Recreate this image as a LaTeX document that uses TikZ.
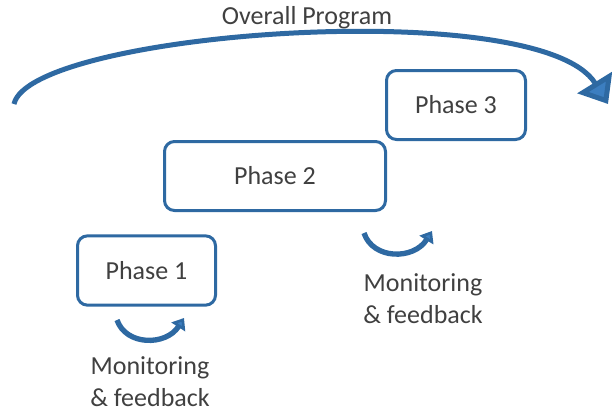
\documentclass[tikz,border=0pt]{standalone}
\usepackage{fontspec}
\setmainfont{Carlito}
\usetikzlibrary{arrows.meta}

\definecolor{progblue}{RGB}{46,105,162}
\definecolor{tipblue}{RGB}{60,126,192}
\definecolor{labelgray}{RGB}{64,64,64}

\tikzset{every picture/.style={line width=0.75pt}}
\tikzset{
  phasebox/.style={draw=progblue, line width=2.25pt, rounded corners=7.5pt, fill=white,
    text=labelgray, font=\fontsize{19.5}{23}\selectfont, minimum height=52pt},
  looparrow/.style={draw=progblue, line width=4pt,
    -{Triangle[width=12pt,length=8pt,fill=tipblue]}},
  feedtext/.style={text=labelgray, font=\fontsize{19.5}{24}\selectfont, align=center, inner sep=0pt}
}

\begin{document}
\begin{tikzpicture}[x=0.75pt,y=0.75pt,yscale=-1,xscale=1]
\useasboundingbox (0,0) rectangle (612,412); %set diagram to 612 x 412

% Text Node
\draw (307,18) node [text=labelgray, font=\fontsize{19.5}{23}\selectfont] (overall) {Overall Program};

%Curve Lines
\coordinate (progstart) at (14,104);
\coordinate (progend) at (608,104);
\draw [draw=progblue, line width=3.75pt, -{Triangle[width=30pt,length=19pt,fill=tipblue]}]
  (progstart) .. controls (30,32) and (540,-6) .. (progend) ;

%Rounded Rect
\draw (146.5,270.5) node [phasebox, minimum width=103.5pt] (phaseone) {Phase 1};
%Rounded Rect
\draw (275,176) node [phasebox, minimum width=165.75pt, minimum height=51.75pt] (phasetwo) {Phase 2};
%Rounded Rect
\draw (456,105) node [phasebox, minimum width=104.25pt, minimum height=51.75pt] (phasethree) {Phase 3};

%Curve Lines
\coordinate (loopinA) at (117,320);
\coordinate (loopoutA) at (184,318);
\draw [looparrow] (loopinA) .. controls (126,346) and (166,346) .. (loopoutA) ;
%Curve Lines
\coordinate (loopinB) at (364,233);
\coordinate (loopoutB) at (432,231);
\draw [looparrow] (loopinB) .. controls (373,260) and (414,260) .. (loopoutB) ;

% Text Node
\draw (150,382) node [feedtext] (feedone) {Monitoring\\\& feedback};
% Text Node
\draw (423,299) node [feedtext] (feedtwo) {Monitoring\\\& feedback};

\end{tikzpicture}
\end{document}
